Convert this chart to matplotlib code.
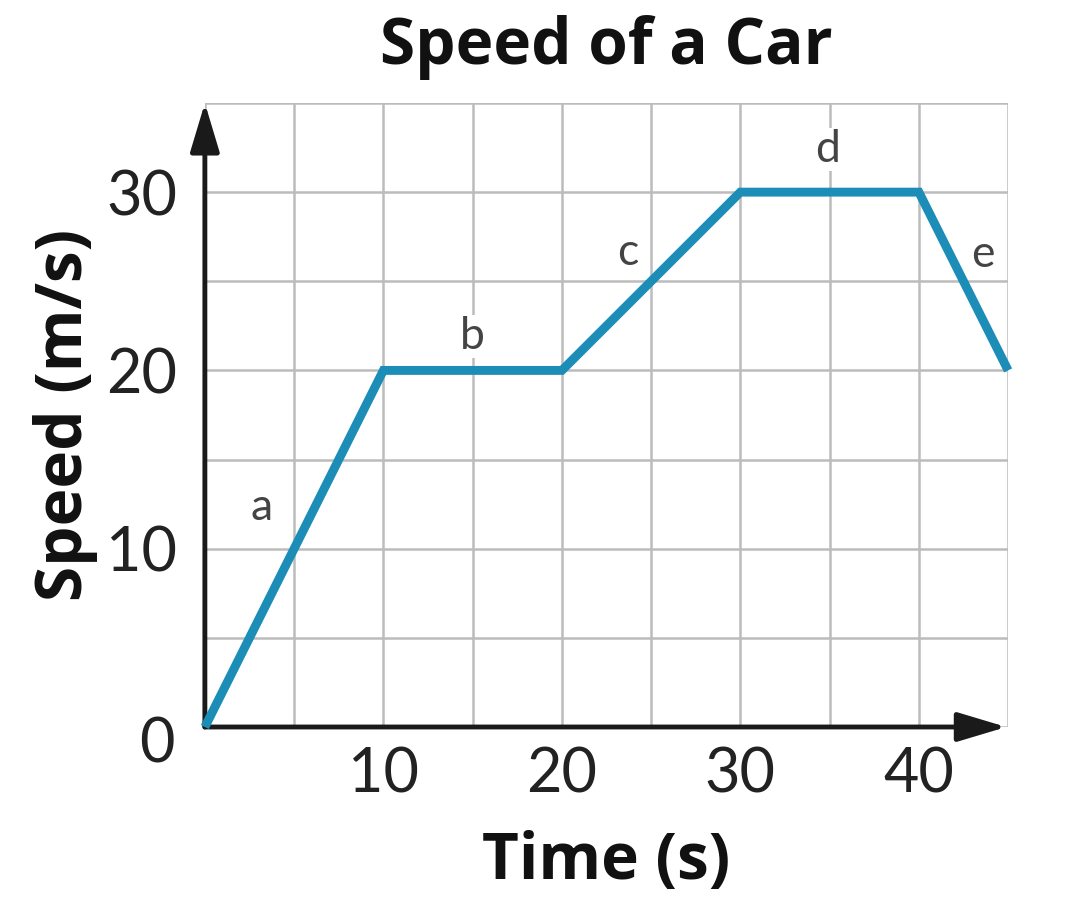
import matplotlib
matplotlib.use("Agg")
import matplotlib.pyplot as plt

# data
time_s = [0, 10, 20, 30, 40, 45]
speed_ms = [0, 20, 20, 30, 30, 20]

x_ticks = [0, 5, 10, 15, 20, 25, 30, 35, 40, 45]
x_tick_labels = ["", "", "10", "", "20", "", "30", "", "40", ""]
y_ticks = [0, 5, 10, 15, 20, 25, 30, 35]
y_tick_labels = ["", "", "10", "", "20", "", "30", ""]

segment_names = ["a", "b", "c", "d", "e"]
segment_x = [3.2, 15.0, 23.7, 34.9, 43.6]
segment_y = [12.3, 21.9, 26.6, 32.4, 26.5]

plt.rcParams["font.family"] = ["Lato", "DejaVu Sans"]

LINE_BLUE = "#1b8db6"
AXIS_BLACK = "#1a1a1a"
GRID_GRAY = "#bcbcbc"
TEXT_DARK = "#222222"
LABEL_FONT = ["Open Sans", "DejaVu Sans"]

fig = plt.figure(figsize=(10.84, 9.22), dpi=100)
ax = fig.add_axes([0.189, 0.2115, 0.741, 0.6768])

ax.set_xlim(0, 45)
ax.set_ylim(0, 35)
for spine in ax.spines.values():
    spine.set_visible(False)

ax.set_xticks(x_ticks)
ax.set_xticklabels(x_tick_labels)
ax.set_yticks(y_ticks)
ax.set_yticklabels(y_tick_labels)
ax.tick_params(axis="both", length=0, labelsize=44, labelcolor=TEXT_DARK)
ax.tick_params(axis="x", pad=14)
ax.tick_params(axis="y", pad=20)
ax.grid(True, color=GRID_GRAY, linewidth=1.8, zorder=0)
ax.set_axisbelow(True)

# axes drawn as arrows
arrow_style = "-|>,head_length=1.5,head_width=0.45"
ax.annotate("", xy=(0, 35.0), xytext=(0, 0),
            arrowprops=dict(arrowstyle=arrow_style, color=AXIS_BLACK, lw=3.5,
                            mutation_scale=20, shrinkA=0, shrinkB=0),
            annotation_clip=False, zorder=4)
ax.annotate("", xy=(44.9, 0), xytext=(0, 0),
            arrowprops=dict(arrowstyle=arrow_style, color=AXIS_BLACK, lw=3.5,
                            mutation_scale=20, shrinkA=0, shrinkB=0),
            annotation_clip=False, zorder=4)

ax.plot(time_s, speed_ms, color=LINE_BLUE, linewidth=6.4,
        solid_joinstyle="miter", solid_capstyle="butt", zorder=5, clip_on=False)

for name, lx, ly in zip(segment_names, segment_x, segment_y):
    ax.text(lx, ly, name, fontsize=32, color="#444444", ha="center", va="center",
            zorder=3, bbox=dict(facecolor="white", edgecolor="none", pad=1))

# origin label sits below-left of the corner
ax.text(-2.7, -1.0, "0", fontsize=44, color=TEXT_DARK, ha="center", va="center",
        clip_on=False)

ax.set_title("Speed of a Car", fontsize=46, fontweight="bold", color="#111111",
             pad=28, family=LABEL_FONT)
ax.set_xlabel("Time (s)", fontsize=46, fontweight="bold", color="#111111",
              labelpad=19, family=LABEL_FONT)
ax.set_ylabel("Speed (m/s)", fontsize=46, fontweight="bold", color="#111111",
              labelpad=6, family=LABEL_FONT)

fig.savefig("out.png", dpi=100)
